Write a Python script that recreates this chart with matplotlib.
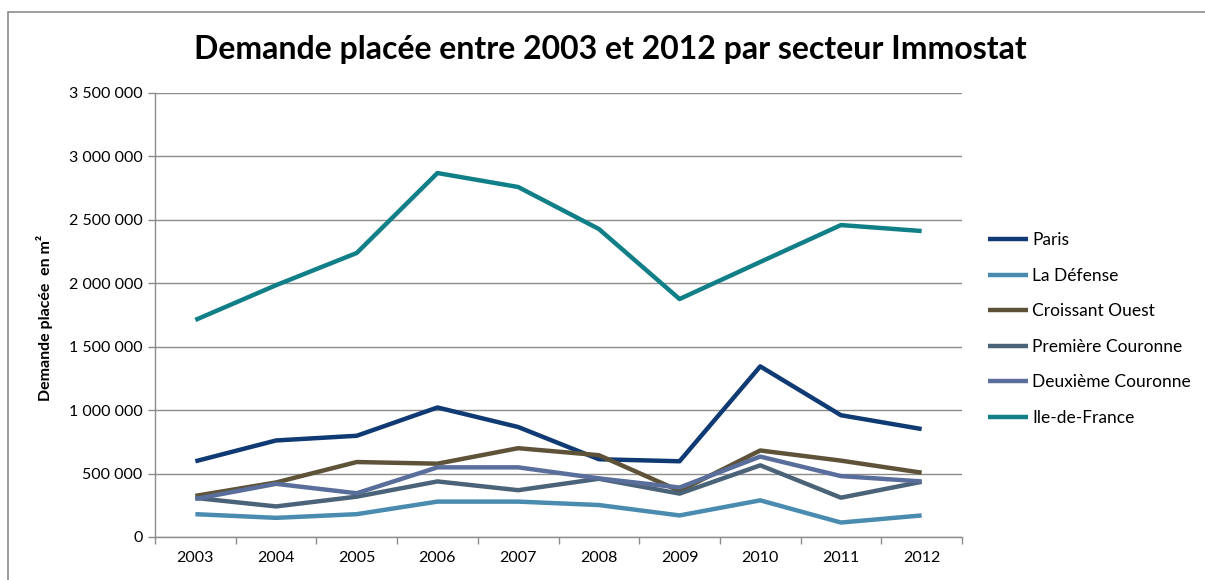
import matplotlib
matplotlib.use("Agg")
import matplotlib.pyplot as plt
from matplotlib.patches import Rectangle
from matplotlib.ticker import FuncFormatter, FixedLocator

years = ["2003", "2004", "2005", "2006", "2007", "2008", "2009", "2010", "2011", "2012"]
paris = [597000, 761000, 798000, 1021000, 867000, 613000, 597000, 1345000, 960000, 851000]
la_defense = [180000, 151000, 180000, 279000, 279000, 252000, 170000, 289000, 114000, 170000]
croissant_ouest = [324000, 430000, 591000, 578000, 700000, 645000, 363000, 682000, 602000, 507000]
premiere_couronne = [308000, 241000, 318000, 438000, 369000, 459000, 342000, 565000, 310000, 435000]
deuxieme_couronne = [300000, 419000, 345000, 549000, 549000, 462000, 390000, 634000, 480000, 438000]
ile_de_france = [1711000, 1985000, 2239000, 2869000, 2759000, 2428000, 1876000, 2168000, 2459000, 2412000]

series = [
    ("Paris", paris, "#0F3A73"),
    ("La Défense", la_defense, "#4A8BB0"),
    ("Croissant Ouest", croissant_ouest, "#5E5338"),
    ("Première Couronne", premiere_couronne, "#4A6378"),
    ("Deuxième Couronne", deuxieme_couronne, "#5A6E9C"),
    ("Ile-de-France", ile_de_france, "#117F87"),
]

plt.rcParams['font.family'] = ['Lato', 'DejaVu Sans']

W, H = 1205, 580
fig = plt.figure(figsize=(W / 100, H / 100), dpi=100)
fig.patch.set_facecolor("white")

# chart border
fig.patches.append(Rectangle((8 / W, -0.1), 1.2, (H - 12) / H + 0.1,
                             transform=fig.transFigure, fill=False,
                             edgecolor="#8C8C8C", linewidth=1.2))

ax = fig.add_axes([155 / W, (H - 537) / H, (962 - 155) / W, (537 - 93) / H])
x = list(range(len(years)))
for name, vals, col in series:
    ax.plot(x, vals, color=col, linewidth=3.2, label=name, solid_capstyle="butt")

ax.set_xlim(-0.5, len(years) - 0.5)
ax.set_ylim(0, 3500000)
ax.set_yticks(range(0, 3500001, 500000))
ax.yaxis.set_major_formatter(FuncFormatter(lambda v, p: f"{int(v):,}".replace(",", " ")))
ax.set_xticks(x)
ax.set_xticklabels(years)
ax.xaxis.set_minor_locator(FixedLocator([i - 0.5 for i in range(len(years) + 1)]))
ax.tick_params(axis="x", which="major", length=0, pad=10, labelsize=11.5, colors="#000000")
ax.tick_params(axis="x", which="minor", length=5, width=1, color="#8C8C8C")
ax.tick_params(axis="y", length=5, width=1, color="#8C8C8C", labelsize=11.5, pad=4)

ax.grid(axis="y", color="#8C8C8C", linewidth=1)
ax.set_axisbelow(True)
for s in ("top", "right"):
    ax.spines[s].set_visible(False)
for s in ("left", "bottom"):
    ax.spines[s].set_color("#8C8C8C")
    ax.spines[s].set_linewidth(1)
    ax.spines[s].set_zorder(3)

fig.text(45 / W, 1 - 318 / H, "Demande placée  en m²", rotation=90, ha="center", va="center",
         fontsize=11.5, fontweight="bold")
fig.text(610 / W, 1 - 50 / H, "Demande placée entre 2003 et 2012 par secteur Immostat",
         ha="center", va="center", fontsize=23, fontweight="bold")

fig.legend(loc="upper left", bbox_to_anchor=(988 / W, 1 - 232 / H), frameon=False,
           fontsize=12.5, handlelength=2.3, handletextpad=0.25, labelspacing=1.13,
           borderpad=0, borderaxespad=0)

fig.savefig("out.png", dpi=100)
